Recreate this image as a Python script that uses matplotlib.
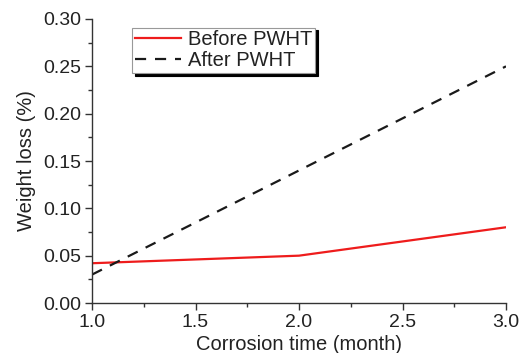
import matplotlib.pyplot as plt
from matplotlib.ticker import MultipleLocator

# data
months = [1.0, 2.0, 3.0]
before_pwht = [0.042, 0.050, 0.080]
after_pwht = [0.030, 0.140, 0.250]

plt.rcParams['font.family'] = 'Liberation Sans'
txt = '#222222'

fig = plt.figure(figsize=(5.2, 3.53), dpi=100)
ax = fig.add_axes([92 / 520, 1 - 303 / 353, (506 - 92) / 520, (303 - 19) / 353])

ax.plot(months, before_pwht, color='#ee1c1c', lw=1.6, label='Before PWHT')
ax.plot(months, after_pwht, color='#1a1a1a', lw=1.6, ls=(0, (5, 4)), label='After PWHT')

ax.set_xlim(1.0, 3.0)
ax.set_ylim(0.0, 0.30)
ax.xaxis.set_major_locator(MultipleLocator(0.5))
ax.xaxis.set_minor_locator(MultipleLocator(0.25))
ax.yaxis.set_major_locator(MultipleLocator(0.05))
ax.yaxis.set_minor_locator(MultipleLocator(0.025))
ax.xaxis.set_major_formatter(plt.FormatStrFormatter('%.1f'))
ax.yaxis.set_major_formatter(plt.FormatStrFormatter('%.2f'))

for s in ['top', 'right']:
    ax.spines[s].set_visible(False)
for s in ['left', 'bottom']:
    ax.spines[s].set_color('#333333')
    ax.spines[s].set_linewidth(1.0)
ax.tick_params(which='major', direction='out', length=5, width=1, colors='#333333',
               labelsize=14, labelcolor=txt, pad=3)
ax.tick_params(which='minor', direction='out', length=3, width=1, colors='#333333')

ax.set_xlabel('Corrosion time (month)', fontsize=14.5, color=txt, labelpad=3)
ax.set_ylabel('Weight loss (%)', fontsize=14.5, color=txt, labelpad=5)

leg = ax.legend(loc='upper left', bbox_to_anchor=(0.097, 0.97), fontsize=14.5,
                frameon=True, fancybox=False, handlelength=2.3, handletextpad=0.35,
                borderpad=0.12, labelspacing=0.12, borderaxespad=0,
                shadow={'color': 'black', 'alpha': 1.0})
leg.get_frame().set_edgecolor('#999999')
leg.get_frame().set_linewidth(0.8)
for t in leg.get_texts():
    t.set_color(txt)

fig.savefig('out.png', dpi=100)
